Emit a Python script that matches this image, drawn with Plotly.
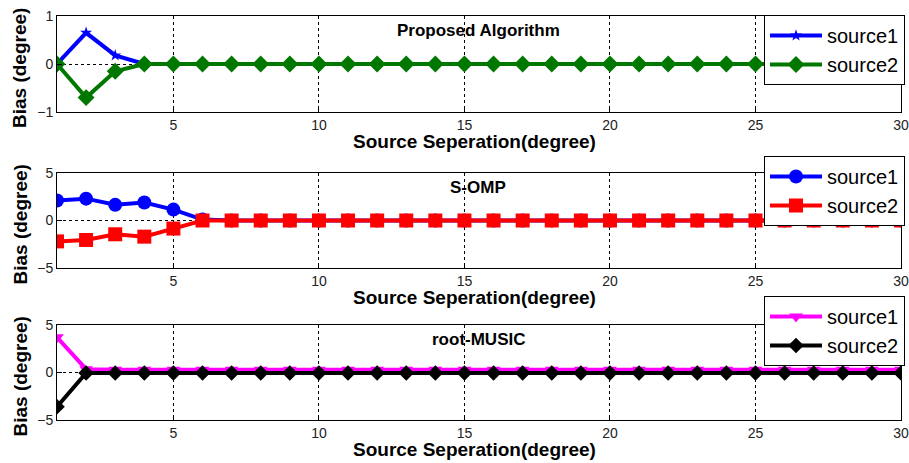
import plotly.graph_objects as go

x = list(range(1, 31))

# Panel 1: Proposed Algorithm
p1_s1 = [0, 0.65, 0.18, 0.0] + [0] * 26
p1_s2 = [0, -0.70, -0.15, 0.0] + [0] * 26
# Panel 2: S-OMP
p2_s1 = [2.1, 2.3, 1.65, 1.9, 1.15, 0.1] + [0] * 24
p2_s2 = [-2.2, -2.05, -1.45, -1.7, -0.85, 0.0] + [0] * 24
# Panel 3: root-MUSIC
p3_s1 = [3.7, 0.35] + [0.3] * 28
p3_s2 = [-3.6, -0.05] + [-0.05] * 28

titles = ["Proposed Algorithm", "S-OMP", "root-MUSIC"]
yranges = [[-1, 1], [-5, 5], [-5, 5]]
yticks = [[-1, 0, 1], [-5, 0, 5], [-5, 0, 5]]
xticks = [5, 10, 15, 20, 25, 30]

W, H = 909, 463
xl, xr = 57, 901
panels_px = [(16, 112), (173, 268), (325, 420)]  # top, bottom in px

fig = go.Figure()

series = [
    (p1_s1, p1_s2, "#0000FF", "star", 9, "#007800", "diamond", 13),
    (p2_s1, p2_s2, "#0000FF", "circle", 14, "#FF0000", "square", 14),
    (p3_s1, p3_s2, "#FF00FF", "triangle-down", 12, "#000000", "diamond", 12),
]
legend_tops = [15, 156, 296]

for i, (s1, s2, c1, m1, ms1, c2, m2, ms2) in enumerate(series):
    ax = "" if i == 0 else str(i + 1)
    leg = "legend" if i == 0 else f"legend{i+1}"
    fig.add_trace(go.Scatter(x=x, y=s1, mode="lines+markers", name="source1",
                             line=dict(color=c1, width=4),
                             marker=dict(symbol=m1, size=ms1, color=c1),
                             xaxis="x" + ax, yaxis="y" + ax, legend=leg))
    fig.add_trace(go.Scatter(x=x, y=s2, mode="lines+markers", name="source2",
                             line=dict(color=c2, width=4),
                             marker=dict(symbol=m2, size=ms2, color=c2),
                             xaxis="x" + ax, yaxis="y" + ax, legend=leg))

layout = dict(
    width=W, height=H,
    margin=dict(l=0, r=0, t=0, b=0),
    paper_bgcolor="white", plot_bgcolor="white",
    font=dict(family="Arial, Liberation Sans", color="#222222", size=14),
    showlegend=True,
)

annotations = []
for i, (top, bot) in enumerate(panels_px):
    ax = "" if i == 0 else str(i + 1)
    dom_y = [1 - bot / H, 1 - top / H]
    axis_common = dict(
        showline=True, linecolor="black", linewidth=1, mirror=True,
        ticks="inside", ticklen=5, tickcolor="black",
        showgrid=True, gridcolor="black", griddash="dot", gridwidth=1,
        zeroline=False, automargin=False, ticklabeloverflow="allow",
        tickfont=dict(family="Arial, Liberation Sans", size=14, color="#222222"),
    )
    layout["xaxis" + ax] = dict(axis_common, domain=[xl / W, xr / W], range=[1, 30],
                                tickvals=xticks, anchor="y" + ax)
    layout["yaxis" + ax] = dict(axis_common, domain=dom_y, range=yranges[i],
                                tickvals=yticks[i], anchor="x" + ax)
    leg = "legend" if i == 0 else f"legend{i+1}"
    layout[leg] = dict(x=764 / W, y=1 - legend_tops[i] / H, xanchor="left", yanchor="top",
                       bgcolor="white", bordercolor="black", borderwidth=1,
                       itemwidth=52,
                       font=dict(family="Arial, Liberation Sans", size=20, color="black"),
                       tracegroupgap=0)
    yc = (top + bot) / 2
    annotations.append(dict(text="<b>" + titles[i] + "</b>", x=478 / W, y=1 - (top + 14) / H,
                            xref="paper", yref="paper", showarrow=False,
                            xanchor="center", yanchor="middle",
                            font=dict(family="Arial, Liberation Sans", size=17, color="black")))
    annotations.append(dict(text="<b>Source Seperation(degree)</b>", x=475 / W,
                            y=1 - (bot + 29) / H, xref="paper", yref="paper", showarrow=False,
                            xanchor="center", yanchor="middle",
                            font=dict(family="Arial, Liberation Sans", size=19, color="black")))
    annotations.append(dict(text="<b>Bias (degree)</b>", x=20 / W, y=1 - (yc + 4) / H,
                            xref="paper", yref="paper", showarrow=False, textangle=-90,
                            xanchor="center", yanchor="middle",
                            font=dict(family="Arial, Liberation Sans", size=19, color="black")))

layout["annotations"] = annotations
fig.update_layout(**layout)
fig.write_html("out.html")
